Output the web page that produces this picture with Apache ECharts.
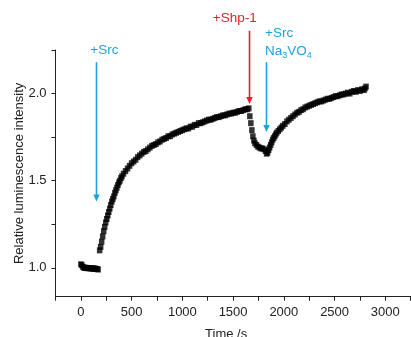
<!DOCTYPE html>
<html><head><meta charset="utf-8">
<script src="https://cdn.jsdelivr.net/npm/echarts@6/dist/echarts.min.js"></script>
<style>html,body{margin:0;padding:0;background:#fff}#c{width:411px;height:337px}</style>
</head><body><div id="c"></div>
<script>
// Time (s) of each measured point
const timeS = [
  0,10,20,30,40,50,60,70,80,90,100,110,120,130,140,150,160,170,
  185,195,205,215,225,235,245,255,265,275,285,295,305,315,325,335,345,355,365,375,385,395,405,
  420,440,460,480,500,520,540,560,580,600,620,640,660,680,700,720,740,760,780,800,820,840,860,880,
  900,920,940,960,980,1000,1020,1040,1060,1080,1100,1120,1140,1160,1180,1200,1220,1240,1260,1280,
  1300,1320,1340,1360,1380,1400,1420,1440,1460,1480,1500,1520,1540,1560,1580,1600,1620,1640,1655,
  1665,1675,1685,1695,1705,1715,1730,1745,1760,1775,1790,1805,1820,1830,1840,
  1850,1860,1870,1880,1890,1900,1910,1920,1930,1945,1960,1975,1990,2010,2030,2050,2070,2090,2110,
  2130,2150,2170,2190,2210,2230,2250,2270,2290,2310,2330,2350,2370,2390,2410,2430,2450,2470,2490,
  2510,2530,2550,2570,2590,2610,2630,2650,2670,2690,2710,2730,2750,2770,2790,2800,2810
];
// Relative luminescence intensity at each time
const intensity = [
  1.02,1.015,1.005,1.0,1.0,1.0,0.998,0.998,0.998,0.997,0.997,0.996,0.996,0.995,0.995,0.994,0.993,0.99,
  1.10,1.12,1.15,1.18,1.21,1.235,1.26,1.28,1.30,1.32,1.34,1.36,1.38,1.395,1.41,1.43,1.445,1.46,1.475,1.49,1.50,1.515,1.525,
  1.54,1.555,1.57,1.585,1.60,1.61,1.62,1.635,1.645,1.655,1.665,1.67,1.68,1.69,1.70,1.705,1.71,1.72,1.725,1.735,1.74,1.745,1.755,1.755,
  1.765,1.77,1.775,1.78,1.785,1.79,1.795,1.80,1.80,1.81,1.81,1.82,1.82,1.83,1.83,1.835,1.84,1.845,1.85,1.85,
  1.855,1.86,1.865,1.865,1.87,1.875,1.875,1.88,1.885,1.885,1.89,1.89,1.895,1.90,1.90,1.905,1.91,1.91,1.915,
  1.87,1.83,1.79,1.755,1.73,1.715,1.705,1.695,1.69,1.685,1.685,1.68,1.67,1.655,1.66,
  1.675,1.69,1.705,1.72,1.735,1.745,1.755,1.765,1.775,1.785,1.795,1.805,1.815,1.825,1.84,1.85,1.86,1.87,1.88,
  1.89,1.895,1.905,1.91,1.92,1.925,1.93,1.935,1.94,1.945,1.95,1.955,1.955,1.96,1.965,1.97,1.97,1.975,1.98,
  1.985,1.985,1.99,1.995,1.995,2.0,2.005,2.0,2.01,2.015,2.01,2.02,2.015,2.025,2.02,2.03,2.04
];
const xTickLabels = [0,500,1000,1500,2000,2500,3000];
const xMinorTicks = [-250,0,250,500,750,1000,1250,1500,1750,2000,2250,2500,2750,3000,3250];
const yTickLabels = [1.0,1.5,2.0];
const yMinorTicks = [1.0,1.25,1.5,1.75,2.0,2.25];
// Annotations: [time, arrow top value, arrow tip value]
const arrowTimes = [153, 1654, 1825];
const arrowTops = [2.18, 2.36, 2.18];
const arrowTips = [1.38, 1.94, 1.78];

const BLUE = '#1ea2dd', RED = '#e5202e';
const FONT = 'Liberation Sans, Arial, sans-serif';
const chart = echarts.init(document.getElementById('c'), null, {renderer:'canvas'});
const pts = timeS.map((t,i)=>[t, intensity[i]]);
chart.setOption({
  animation:false,
  backgroundColor:'#fff',
  textStyle:{fontFamily:FONT},
  grid:{left:55.5, top:50, right:0.3, bottom:40.3, containLabel:false, outerBoundsMode:'none'},
  xAxis:{
    type:'value', min:-250, max:3250,
    name:'Time /s', nameLocation:'middle', nameGap:31, nameMoveOverlap:false,
    nameTextStyle:{fontSize:13, color:'#222', fontFamily:FONT, padding:[0,14,0,0]},
    axisLine:{show:true, onZero:false, lineStyle:{color:'#222', width:1}},
    axisTick:{show:true, length:4, inside:false, customValues:xMinorTicks, lineStyle:{color:'#222'}},
    axisLabel:{customValues:xTickLabels, fontSize:13, color:'#222', margin:9, fontFamily:FONT,
      formatter:v=>String(v)},
    splitLine:{show:false}
  },
  yAxis:{
    type:'value', min:0.834, max:2.25,
    name:'Relative luminescence intensity', nameLocation:'middle', nameGap:30, nameRotate:90,
    nameMoveOverlap:false,
    nameTextStyle:{fontSize:13, color:'#222', fontFamily:FONT},
    axisLine:{show:true, onZero:false, lineStyle:{color:'#222', width:1}},
    axisTick:{show:true, length:4, inside:false, customValues:yMinorTicks, lineStyle:{color:'#222'}},
    axisLabel:{customValues:yTickLabels, fontSize:13, color:'#222', margin:9, fontFamily:FONT,
      formatter:v=>v.toFixed(1)},
    splitLine:{show:false}
  },
  series:[{
    type:'scatter', data:pts, symbol:'rect', symbolSize:[5.5,6],
    itemStyle:{color:'#000'}, clip:false
  }]
});

function arrow(i, color){
  const top = chart.convertToPixel({gridIndex:0}, [arrowTimes[i], arrowTops[i]]);
  const tip = chart.convertToPixel({gridIndex:0}, [arrowTimes[i], arrowTips[i]]);
  const x = Math.round(top[0]) + 0.5;
  return [
    {type:'line', shape:{x1:x, y1:top[1], x2:x, y2:tip[1]-5}, style:{stroke:color, lineWidth:1.6}, z:10},
    {type:'polygon', shape:{points:[[x-3.2, tip[1]-7],[x+3.2, tip[1]-7],[x, tip[1]]]}, style:{fill:color}, z:10}
  ];
}
function place(){
  const g = [];
  g.push(...arrow(0, BLUE), ...arrow(1, RED), ...arrow(2, BLUE));
  const a0 = chart.convertToPixel({gridIndex:0}, [arrowTimes[0], arrowTops[0]]);
  const a1 = chart.convertToPixel({gridIndex:0}, [arrowTimes[1], arrowTops[1]]);
  const a2 = chart.convertToPixel({gridIndex:0}, [arrowTimes[2], arrowTops[2]]);
  g.push({type:'text', x:a0[0]+8, y:a0[1]-12, style:{text:'+Src', fill:BLUE, font:'13.5px '+FONT, align:'center', verticalAlign:'middle'}, z:10});
  g.push({type:'text', x:a1[0]-14, y:a1[1]-13, style:{text:'+Shp-1', fill:RED, font:'13.5px '+FONT, align:'center', verticalAlign:'middle'}, z:10});
  g.push({type:'text', x:a2[0]-1, y:a2[1]-29, style:{text:'+Src', fill:BLUE, font:'13.5px '+FONT, align:'left', verticalAlign:'middle'}, z:10});
  g.push({type:'text', x:a2[0]-1, y:a2[1]-11, style:{
    text:'{n|Na}{s|3}{n|VO}{s|4}', align:'left', verticalAlign:'middle',
    rich:{
      n:{fill:BLUE, font:'13.5px '+FONT, lineHeight:18, verticalAlign:'middle'},
      s:{fill:BLUE, font:'9px '+FONT, lineHeight:18, verticalAlign:'bottom', padding:[0,0,0,0]}
    }}, z:10});
  chart.setOption({graphic:{elements:g}});
}
place();
</script>
</body></html>
